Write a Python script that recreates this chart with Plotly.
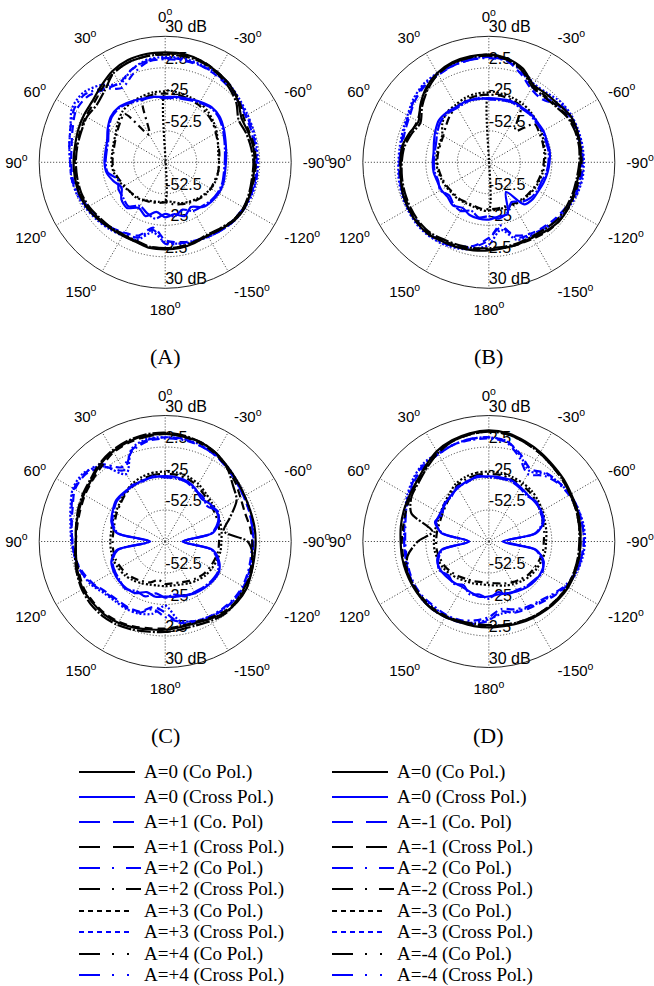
import plotly.graph_objects as go

W, H = 654, 986

# angular sample grid (deg, 0 at top, counter-clockwise)
THETA = list(range(0, 360, 10))

# ---------------- (A) : A = 0, +1 ... +4  (dB) ----------------
A_CO0 = [16, 16, 15, 12, 7, 3, 2, 1, 0, 0, 0, 0, -1, -3, -5, -6, -6, -4, -4, -4,
         -5, -6, -4, -1, 0, -1, -2, -2, -2, -3, -3, 3, 8, 11, 14, 16]
A_X0 = [-23, -22, -21, -19, -17, -18, -22, -26, -27, -27, -28, -32, -36, -30, -28, -34, -30, -36, -32, -34,
        -30, -35, -29, -27, -26, -26, -27, -27, -26, -24, -21, -18, -17, -19, -21, -22]
A_CO1 = [11, 10, 6, 0, 3, 9, 10, 6, 3, 2, 2, 0, -2, -4, -6, -9, -12, -22, -12, -9,
         -7, -5, -3, -2, -1, 0, 0, -1, -1, 0, 1, 3, 6, 8, 10, 11]
A_X1 = [15, 14, 13, 10, 5, 1, 0, -1, -1, -1, -1, -1, -2, -4, -6, -7, -6, -5, -5, -5,
        -6, -6, -4, -2, -1, -1, -1, -1, -1, -2, -1, 4, 8, 11, 14, 15]
A_CO2 = [10, 9, 2, -5, 4, 12, 12, 8, 5, 3, 3, 1, -1, -3, -5, -8, -10, -20, -9, -8,
         -7, -5, -3, -1, 0, 0, 1, 0, 0, 1, 2, 4, 7, 9, 10, 10]
A_X2 = [-20, -20, -22, -52, -25, -28, -31, -33, -34, -34, -35, -37, -39, -40, -41, -42, -43, -44, -45, -43,
        -41, -39, -37, -35, -34, -34, -33, -33, -32, -31, -29, -26, -24, -22, -21, -20]
A_CO3 = [-18, -18, -19, -20, -22, -26, -30, -32, -33, -33, -34, -36, -38, -40, -40, -42, -44, -45, -46, -45,
         -42, -40, -38, -36, -34, -33, -33, -33, -33, -31, -28, -25, -22, -20, -19, -18]
A_X3 = [12, 11, 6, -1, 8, 14, 14, 8, 5, 3, 3, 2, 0, -2, -4, -6, -8, -18, -10, -8,
        -6, -5, -3, -1, 0, 1, 1, 1, 1, 2, 3, 5, 8, 10, 11, 12]
A_CO4 = [14, 14, 13, 10, 2, -2, -1, -2, -2, -2, -2, -2, -3, -5, -6, -7, -7, -5, -5, -5,
         -6, -7, -5, -2, -1, -2, -3, -3, -4, -5, -6, 1, 6, 10, 13, 14]
A_X4 = [-24, -22, -22, -20, -18, -19, -23, -27, -28, -28, -29, -36, -33, -32, -30, -36, -33, -30, -35, -32,
        -36, -31, -30, -28, -27, -27, -28, -28, -27, -25, -22, -19, -18, -20, -22, -23]

# ---------------- (B) : A = 0, -1 ... -4  (dB) ----------------
B_CO0 = [14, 14, 13, 10, 5, -2, -9, -6, -3, -3, -2, 0, 1, 2, 2, 0, -1, -2, -3, -4,
         -4, -4, -2, 0, 0, -1, -1, 0, 1, 2, 2, -1, -2, -2, 7, 12]
B_X0 = [-24, -24, -23, -24, -23, -23, -26, -29, -31, -31, -31, -32, -32, -33, -31, -34, -31, -30, -30, -32,
        -32, -50, -32, -30, -30, -29, -28, -27, -26, -26, -25, -25, -24, -24, -23, -24]
B_CO1 = [12, 11, 10, 8, 7, 4, 0, -2, -3, -2, -1, 0, 1, 1, 1, 0, -2, -6, -14, -22,
         -12, -8, -6, -4, -2, 0, 1, 1, 1, 1, 1, -2, -8, -6, 2, 10]
B_X1 = [14, 13, 12, 9, 4, -3, -8, -7, -4, -3, -2, -1, 0, 1, 1, -1, -2, -3, -4, -4,
        -4, -3, -1, 0, 0, 0, 0, 1, 1, 1, 0, -3, -4, -3, 6, 12]
B_CO2 = [11, 11, 10, 9, 8, 5, 1, -1, -2, -2, -1, 0, 1, 2, 2, 1, -1, -5, -12, -24,
         -10, -7, -5, -3, -1, 1, 2, 2, 2, 2, 2, 0, -6, -4, 4, 10]
B_X2 = [-21, -21, -22, -24, -27, -31, -34, -35, -35, -35, -36, -37, -38, -39, -39, -40, -40, -39, -39, -39,
        -39, -38, -37, -36, -35, -34, -33, -32, -31, -30, -29, -28, -44, -24, -22, -21]
B_CO3 = [-19, -19, -20, -22, -23, -27, -33, -34, -34, -34, -35, -36, -37, -38, -38, -39, -39, -38, -38, -38,
         -38, -37, -36, -35, -34, -33, -32, -31, -30, -29, -27, -25, -23, -21, -20, -19]
B_X3 = [12, 12, 11, 10, 9, 6, 2, 0, -1, -1, 0, 1, 2, 3, 3, 2, 0, -3, -8, -20,
        -8, -6, -4, -2, 0, 2, 3, 3, 3, 3, 3, 2, -1, -1, 6, 11]
B_CO4 = [13, 13, 12, 9, 3, -4, -11, -8, -5, -4, -3, -2, -1, 0, 0, -2, -3, -4, -5, -5,
         -5, -5, -4, -2, -2, -2, -2, -1, 0, 0, -1, -4, -5, -4, 5, 11]
B_X4 = [-25, -23, -24, -25, -24, -25, -28, -31, -32, -32, -32, -33, -31, -35, -32, -31, -35, -31, -33, -30,
        -33, -40, -35, -32, -31, -31, -29, -28, -27, -27, -26, -26, -25, -25, -24, -25]

# ---------------- (C) : A = 0, +1 ... +4  (dB) ----------------
C_CO0 = [14, 14, 13, 11, 8, 4, 2, 0, -1, -2, -1, 1, 3, 3, 3, 2, 0, -2, -3, -4,
         -4, -2, 1, 2, 2, 0, -1, -1, -1, -1, 0, 2, 5, 9, 12, 13]
C_X0 = [-23, -23, -23, -24, -24, -24, -27, -30, -37, -67, -37, -30, -28, -27, -27, -28, -33, -31, -32, -31,
        -30, -28, -27, -26, -26, -30, -38, -65, -38, -30, -28, -29, -31, -27, -24, -23]
C_CO1 = [11, 10, 5, -8, 5, 11, 11, 6, 3, 1, 0, -3, -7, -12, -14, -14, -15, -22, -18, -8,
         -5, -3, -2, -1, -1, -2, -3, -3, -3, -2, -1, 1, 4, 7, 9, 11]
C_X1 = [14, 13, 12, 10, 6, 3, 1, -1, -2, -2, -1, 0, 2, 2, 2, 1, -1, -3, -4, -5,
        -5, -3, 0, 1, 1, -1, -3, -4, -5, -6, -4, 0, 4, 8, 11, 13]
C_CO2 = [10, 9, 4, -5, 8, 12, 12, 7, 3, 1, 0, -2, -6, -11, -13, -13, -14, -20, -14, -9,
         -6, -4, -3, -2, -2, -3, -4, -4, -3, -2, -1, 1, 4, 7, 9, 10]
C_X2 = [-21, -21, -22, -24, -26, -29, -31, -33, -34, -34, -34, -34, -35, -36, -38, -40, -42, -46, -43, -43,
        -42, -40, -38, -36, -35, -34, -33, -33, -32, -31, -30, -29, -27, -24, -22, -21]
C_CO3 = [-19, -19, -20, -22, -25, -28, -30, -31, -32, -32, -32, -32, -33, -34, -36, -38, -40, -41, -41, -41,
         -40, -38, -36, -34, -33, -32, -31, -31, -30, -29, -28, -27, -25, -22, -20, -19]
C_X3 = [11, 11, 6, -12, 6, 13, 13, 8, 4, 2, 0, -2, -5, -10, -12, -12, -13, -16, -24, -10,
        -6, -4, -2, -1, -1, -2, -3, -3, -2, -1, 0, 2, 5, 8, 10, 11]
C_CO4 = [15, 15, 14, 12, 9, 5, 3, 1, -1, -2, 0, 2, 4, 5, 5, 4, 2, 0, -1, -2,
         -2, 0, 2, 1, 0, 0, -2, -8, -28, -20, -8, -3, 4, 9, 12, 14]
C_X4 = [-24, -22, -24, -23, -25, -25, -28, -31, -38, -66, -38, -31, -29, -28, -26, -30, -29, -34, -31, -33,
        -29, -29, -28, -27, -27, -31, -39, -64, -39, -31, -27, -32, -29, -28, -25, -24]

# ---------------- (D) : A = 0, -1 ... -4  (dB) ----------------
D_CO0 = [17, 16, 14, 11, 6, 2, 0, -1, -2, -3, -3, -3, -3, -3, -3, -4, -5, -5, -5, -5,
         -4, -3, -2, -1, 0, 0, 0, 0, 1, 2, 3, 5, 7, 10, 13, 16]
D_X0 = [-23, -23, -24, -26, -28, -30, -31, -31, -38, -63, -38, -32, -31, -32, -33, -34, -33, -31, -32, -33,
        -32, -30, -28, -27, -27, -29, -38, -68, -38, -29, -27, -27, -27, -25, -23, -23]
D_CO1 = [11, 11, 10, 8, 7, 4, 0, -3, -5, -6, -6, -5, -4, -3, -3, -4, -5, -7, -11, -18,
         -14, -12, -10, -6, -2, 1, 2, 3, 3, 3, 2, 0, -2, -7, 1, 9]
D_X1 = [16, 15, 13, 10, 5, 1, -1, -3, -4, -4, -4, -4, -4, -4, -4, -5, -6, -6, -6, -6,
        -5, -4, -3, -2, -1, -1, 0, 0, 0, 1, 2, 4, 6, 9, 12, 15]
D_CO2 = [10, 10, 10, 8, 8, 5, 1, -3, -6, -7, -7, -6, -5, -5, -6, -6, -7, -10, -14, -20,
         -17, -14, -12, -8, -3, 0, 2, 3, 3, 2, 1, -1, -5, -12, -2, 8]
D_X2 = [-21, -21, -22, -24, -28, -31, -33, -34, -34, -34, -34, -35, -36, -38, -40, -42, -43, -44, -44, -43,
        -41, -39, -37, -35, -34, -33, -32, -32, -31, -30, -28, -26, -24, -23, -22, -21]
D_CO3 = [-19, -19, -20, -22, -26, -29, -31, -32, -32, -32, -32, -33, -34, -36, -38, -40, -41, -42, -42, -41,
         -39, -37, -35, -33, -32, -31, -30, -30, -29, -28, -26, -24, -22, -21, -20, -19]
D_X3 = [11, 11, 10, 9, 9, 6, 2, -2, -5, -6, -6, -5, -4, -4, -5, -5, -6, -8, -12, -16,
        -15, -13, -11, -7, -2, 1, 3, 4, 4, 3, 2, 0, -3, -9, 0, 9]
D_CO4 = [16, 15, 13, 9, 4, 0, -2, -8, -30, -18, -8, -4, -4, -3, -3, -4, -6, -7, -7, -6,
         -5, -4, -3, -2, -1, -1, -1, -1, 0, 1, 2, 4, 6, 9, 12, 15]
D_X4 = [-24, -22, -25, -25, -29, -29, -33, -30, -39, -62, -39, -33, -30, -34, -32, -36, -31, -33, -30, -35,
        -31, -31, -29, -28, -26, -30, -39, -66, -39, -30, -28, -26, -28, -26, -24, -24]

# ring values and labels
RING_DB = [-52.5, -25, 2.5, 30]
RING_TEXT = ["-52.5", "-25", "2.5", "30 dB"]
R_MIN = -80

ANGLE_TICKS = list(range(0, 360, 30))
ANGLE_TEXT = ["0", "30", "60", "90", "120", "150", "180", "-150", "-120", "-90", "-60", "-30"]

LEFT_LABELS = ["A=0 (Co Pol.)", "A=0 (Cross Pol.)", "A=+1 (Co. Pol)", "A=+1 (Cross Pol.)",
               "A=+2 (Co Pol.)", "A=+2 (Cross Pol.)", "A=+3 (Co Pol.)", "A=+3 (Cross Pol.)",
               "A=+4 (Co Pol.)", "A=+4 (Cross Pol.)"]
RIGHT_LABELS = ["A=0 (Co Pol.)", "A=0 (Cross Pol.)", "A=-1 (Co. Pol)", "A=-1 (Cross Pol.)",
                "A=-2 (Co Pol.)", "A=-2 (Cross Pol.)", "A=-3 (Co Pol.)", "A=-3 (Cross Pol.)",
                "A=-4 (Co Pol.)", "A=-4 (Cross Pol.)"]

SERIES_KEYS = ["co0", "x0", "co1", "x1", "co2", "x2", "co3", "x3", "co4", "x4"]

PANELS = {
    "A": dict(zip(SERIES_KEYS, [A_CO0, A_X0, A_CO1, A_X1, A_CO2, A_X2, A_CO3, A_X3, A_CO4, A_X4])),
    "B": dict(zip(SERIES_KEYS, [B_CO0, B_X0, B_CO1, B_X1, B_CO2, B_X2, B_CO3, B_X3, B_CO4, B_X4])),
    "C": dict(zip(SERIES_KEYS, [C_CO0, C_X0, C_CO1, C_X1, C_CO2, C_X2, C_CO3, C_X3, C_CO4, C_X4])),
    "D": dict(zip(SERIES_KEYS, [D_CO0, D_X0, D_CO1, D_X1, D_CO2, D_X2, D_CO3, D_X3, D_CO4, D_X4])),
}

# ---------------- styling ----------------
BLACK = "#000000"
BLUE = "#0000ff"
SANS = "Liberation Sans, Arial, sans-serif"
SERIF = "Liberation Serif, Times New Roman, serif"

# colour, dash used in the plots, dash used in the legend key, key length (px)
STYLES = {
    "co0": (BLACK, "solid", "solid", 56),
    "x0": (BLUE, "solid", "solid", 56),
    "co1": (BLUE, "8px,5px", "21px,13px", 56),
    "x1": (BLACK, "8px,5px", "21px,13px", 56),
    "co2": (BLUE, "8px,4px,2px,4px", "21px,12px,2px,12px", 62),
    "x2": (BLACK, "8px,4px,2px,4px", "21px,12px,2px,12px", 62),
    "co3": (BLACK, "2px,2px", "5px,4px", 54),
    "x3": (BLUE, "2px,2px", "5px,4px", 54),
    "co4": (BLACK, "14px,2px,2px,2px", "21px,12px,2px,13px,2px,40px", 52),
    "x4": (BLUE, "14px,2px,2px,2px", "21px,12px,2px,13px,2px,40px", 52),
}
DRAW_ORDER = ["co3", "x2", "x3", "co2", "co1", "x1", "co4", "co0", "x4", "x0"]

# subplot placement (paper fractions)
DOMAINS = {
    "A": ([0.0599, 0.4453], [0.7076, 0.9632]),
    "B": ([0.5548, 0.9401], [0.7076, 0.9632]),
    "C": ([0.0599, 0.4453], [0.3230, 0.5786]),
    "D": ([0.5548, 0.9401], [0.3230, 0.5786]),
}
PANEL_LABEL_Y = {"A": 357, "B": 357, "C": 735, "D": 735}
# panels whose co-pol A=+-3 trace is stored as two half sweeps (0..180, 0..-180)
HALF_SWEEP = {"A", "B"}


def closed(vals):
    return THETA + [360], vals + [vals[0]]


def half_sweeps(vals):
    th = THETA[:19] + [360] + THETA[35:17:-1]
    r = vals[:19] + [vals[0]] + vals[35:17:-1]
    return th, r


fig = go.Figure()
layout_polars = {}

for i, (name, series) in enumerate(PANELS.items()):
    pid = "polar" if i == 0 else f"polar{i + 1}"
    # ring labels, above the vertical axis and below the centre
    for th0 in (0, 180):
        fig.add_trace(go.Scatterpolar(
            r=RING_DB, theta=[th0] * len(RING_DB), mode="text", text=RING_TEXT,
            textposition="top right", cliponaxis=False, hoverinfo="skip",
            textfont=dict(family=SANS, size=16, color=BLACK), subplot=pid, showlegend=False))
    for key in DRAW_ORDER:
        colour, dash, _, _ = STYLES[key]
        vals = series[key]
        if key == "co3" and name in HALF_SWEEP:
            th, r = half_sweeps(vals)
        else:
            th, r = closed(vals)
        fig.add_trace(go.Scatterpolar(
            r=r, theta=th, mode="lines", subplot=pid, showlegend=False,
            line=dict(color=colour, width=2.2, dash=dash, shape="spline", smoothing=0.8)))

    dx, dy = DOMAINS[name]
    layout_polars[pid] = dict(
        domain=dict(x=dx, y=dy),
        bgcolor="rgba(0,0,0,0)",
        radialaxis=dict(range=[R_MIN, RING_DB[-1]], tickvals=RING_DB[:-1], showticklabels=False,
                        ticks="", showline=False, showgrid=True, gridcolor="#333333",
                        griddash="1px,2px", gridwidth=1),
        angularaxis=dict(rotation=90, direction="counterclockwise", tickmode="array",
                         tickvals=ANGLE_TICKS,
                         ticktext=[t + "<sup>o</sup>" for t in ANGLE_TEXT],
                         showline=True, linecolor="#222222", linewidth=1,
                         showgrid=True, gridcolor="#333333", griddash="1px,2px", gridwidth=1,
                         ticks="outside", ticklen=8, tickcolor="rgba(0,0,0,0)",
                         tickfont=dict(family=SANS, size=15, color=BLACK)),
    )

annotations = []
for name, (dx, _) in DOMAINS.items():
    annotations.append(dict(
        x=(dx[0] + dx[1]) / 2, y=1 - PANEL_LABEL_Y[name] / H, xref="paper", yref="paper",
        text=f"({name})", showarrow=False, xanchor="center", yanchor="middle",
        font=dict(family=SERIF, size=22, color=BLACK)))

# legend keys drawn as short line samples with their text
LEGEND_ROWS = [772, 797, 822, 847, 868, 889, 911, 932, 954, 975]
shapes = []
for col_x, text_x, labels in ((79, 142, LEFT_LABELS), (332, 395, RIGHT_LABELS)):
    for row_y, key, label in zip(LEGEND_ROWS, SERIES_KEYS, labels):
        colour, _, key_dash, key_len = STYLES[key]
        yy = 1 - row_y / H
        shapes.append(dict(type="line", xref="paper", yref="paper",
                           x0=col_x / W, x1=(col_x + key_len) / W, y0=yy, y1=yy,
                           line=dict(color=colour, width=2, dash=key_dash)))
        annotations.append(dict(x=text_x / W, y=yy, xref="paper", yref="paper", text=label,
                                showarrow=False, xanchor="left", yanchor="middle",
                                font=dict(family=SERIF, size=19, color=BLACK)))

fig.update_layout(
    width=W, height=H, margin=dict(l=0, r=0, t=0, b=0),
    paper_bgcolor="white", plot_bgcolor="white", showlegend=False,
    annotations=annotations, shapes=shapes, **layout_polars)

fig.write_html("out.html")
